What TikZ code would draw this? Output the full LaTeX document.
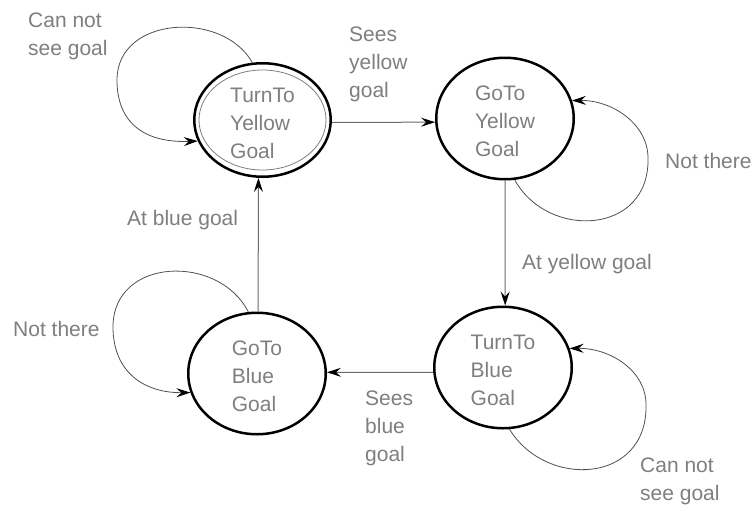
\documentclass[tikz,border=0pt]{standalone}
\usepackage{fontspec}
\setmainfont{Liberation Sans}
\usetikzlibrary{shapes.geometric,arrows.meta,calc}
\definecolor{txtgray}{HTML}{7F7F7F}
\definecolor{linegray}{HTML}{6A6A6A}
\definecolor{loopgray}{HTML}{505050}
\tikzset{
  st/.style={ellipse, draw=black, line width=2.5pt, inner sep=0pt, align=left,
    text=txtgray, font=\fontsize{21}{28}\selectfont, text height=77pt},
  lbl/.style={text=txtgray, font=\fontsize{21}{28}\selectfont, inner sep=0pt, align=left, anchor=base west},
  tr/.style={draw=linegray, line width=1pt, -{Stealth[length=14pt,width=9pt,inset=5pt,color=black]}},
  selfloop/.style={draw=loopgray, line width=0.8pt, -{Stealth[length=14pt,width=9pt,inset=5pt,color=black]}}
}
\begin{document}
\begin{tikzpicture}[x=1pt,y=-1pt]
\path[use as bounding box, fill=white] (0,0) rectangle (753,504);

% states
\node[st, minimum width=136.5pt, minimum height=113.5pt] (e1) at (262.5,120) {TurnTo\\Yellow\\Goal};
\draw[txtgray, line width=0.8pt] (e1.center) ellipse [x radius=63.5pt, y radius=50pt];
\node[st, minimum width=137.5pt, minimum height=121.5pt] (e2) at (505,118.5) {GoTo\\Yellow\\Goal};
\node[st, minimum width=137.5pt, minimum height=121.5pt] (e3) at (503,367.5) {TurnTo\\Blue\\Goal};
\node[st, minimum width=137.5pt, minimum height=121.5pt] (e4) at (257,373.5) {GoTo\\Blue\\Goal};

% transitions
\draw[tr] (e1.358) -- (e2.183);
\draw[tr] (e2.270) -- (e3.88);
\draw[tr] (e3.184) -- (e4.1);
\draw[tr] (e4.89) -- (e1.266);

% self loops
\draw[selfloop] (e1.100)
  .. controls ($(e1.center)+(-39.75,-110)$) and ($(e1.center)+(-145.5,-104)$) .. ($(e1.center)+(-145.5,-40)$)
  .. controls ($(e1.center)+(-145.5,5)$) and ($(e1.center)+(-115.5,23)$) .. (e1.198);
\draw[selfloop] (e4.98)
  .. controls ($(e4.center)+(-38.25,-120)$) and ($(e4.center)+(-144,-116.5)$) .. ($(e4.center)+(-144,-46.5)$)
  .. controls ($(e4.center)+(-144,-1.5)$) and ($(e4.center)+(-113,19.5)$) .. (e4.196);
\draw[selfloop] (e2.279)
  .. controls ($(e2.center)+(43,121.5)$) and ($(e2.center)+(145,116.5)$) .. ($(e2.center)+(143,39.5)$)
  .. controls ($(e2.center)+(143,5.5)$) and ($(e2.center)+(107,-18.5)$) .. (e2.15);
\draw[selfloop] (e3.276)
  .. controls ($(e3.center)+(43,121.5)$) and ($(e3.center)+(145,116.5)$) .. ($(e3.center)+(143,37)$)
  .. controls ($(e3.center)+(143,3)$) and ($(e3.center)+(107,-19.5)$) .. (e3.16);

% labels (base = baseline of last line)
\node[lbl] (l1) at (28,55) {Can not\\see goal};
\node[lbl] (l2) at (349,97) {Sees\\yellow\\goal};
\node[lbl] (l3) at (665,168) {Not there};
\node[lbl] (l4) at (522,269) {At yellow goal};
\node[lbl] (l5) at (127,225) {At blue goal};
\node[lbl] (l6) at (13,336) {Not there};
\node[lbl] (l7) at (365,461) {Sees\\blue\\goal};
\node[lbl] (l8) at (640,500) {Can not\\see goal};
\end{tikzpicture}
\end{document}
